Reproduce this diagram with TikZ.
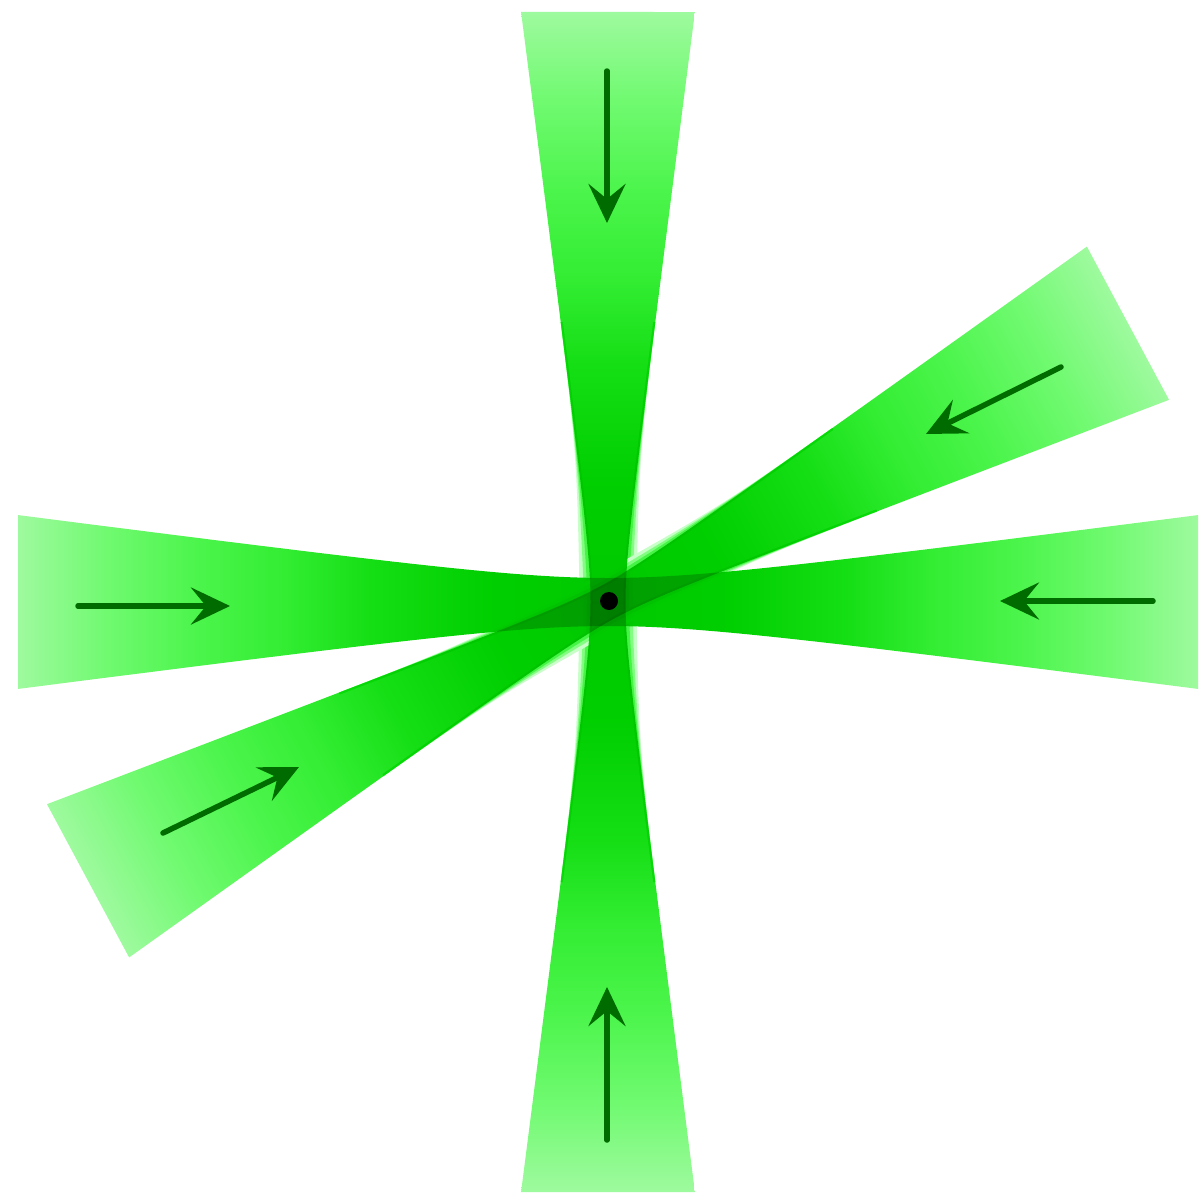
\documentclass[tikz,border=0pt]{standalone}
\usetikzlibrary{arrows.meta}
\definecolor{arrowgreen}{RGB}{0,108,0}
\definecolor{glowa}{RGB}{200,255,200}
\definecolor{glowb}{RGB}{130,253,130}
\definecolor{glowc}{RGB}{70,244,70}
\pgfdeclarehorizontalshading{beamshade}{100bp}{rgb(0bp)=(0.62,0.98,0.62); rgb(25bp)=(0.62,0.98,0.62); rgb(28.75bp)=(0.44,0.98,0.44); rgb(32.5bp)=(0.3,0.96,0.3); rgb(36.25bp)=(0.2,0.93,0.2); rgb(40bp)=(0.08,0.87,0.08); rgb(45bp)=(0,0.81,0); rgb(50bp)=(0,0.79,0); rgb(55bp)=(0,0.81,0); rgb(60bp)=(0.08,0.87,0.08); rgb(63.75bp)=(0.2,0.93,0.2); rgb(67.5bp)=(0.3,0.96,0.3); rgb(71.25bp)=(0.44,0.98,0.44); rgb(75bp)=(0.62,0.98,0.62); rgb(100bp)=(0.62,0.98,0.62)}
\tikzset{
  beam/.style={shading=beamshade, blend mode=multiply},
  ray/.style={draw=arrowgreen, line width=5.5pt, line cap=round,
    -{Stealth[length=39pt,width=37pt,inset=15pt]}},
  dot/.style={circle, fill=black, inner sep=0pt, minimum size=18pt},
}
\begin{document}
\begin{tikzpicture}[x=1pt,y=-1pt,
  declare function={wh(\t)=8+sqrt(256+(0.131*\t)^2);
                    wv(\t)=10.5+sqrt(49+(0.129*\t)^2);
                    gl(\t)=1/exp((\t/120)^2);}]
\useasboundingbox (0,0) rectangle (1201,1199);
% soft rims of the vertical and oblique beams near the focus (under the beams)
\foreach \ang in {90,28.2} {
  \foreach \s in {1,-1} {
    \foreach \k/\col in {11/glowa, 7/glowb, 3.5/glowc} {
      \begin{scope}[transform canvas={shift={(608,602)}, rotate=\ang}]
        \fill[\col] plot[domain=-280:280, samples=61, smooth] (\x,{\s*(wv(\x)+\k*gl(\x))})
          -- plot[domain=280:-280, samples=61, smooth] (\x,{\s*(wv(\x)-2)}) -- cycle;
      \end{scope}
    }
  }
}
% horizontal beam
\begin{scope}[transform canvas={shift={(608,602)}}]
  \shade[beam] plot[domain=-590:590, samples=91, smooth] (\x,{wh(\x)})
    -- plot[domain=590:-590, samples=91, smooth] (\x,{-wh(\x)}) -- cycle;
\end{scope}
% vertical and oblique beams
\foreach \ang in {90,28.2} {
  \begin{scope}[transform canvas={shift={(608,602)}, rotate=\ang}]
    \shade[beam] plot[domain=-590:590, samples=91, smooth] (\x,{wv(\x)})
      -- plot[domain=590:-590, samples=91, smooth] (\x,{-wv(\x)}) -- cycle;
  \end{scope}
}
% arrow end points
\coordinate (t0) at (607,71);   \coordinate (t1) at (607,223);
\coordinate (b0) at (607,1140); \coordinate (b1) at (607,987);
\coordinate (l0) at (78,606);   \coordinate (l1) at (230,606);
\coordinate (r0) at (1153,601); \coordinate (r1) at (1000,601);
\coordinate (u0) at (1061,367); \coordinate (u1) at (926,434);
\coordinate (d0) at (163,833);  \coordinate (d1) at (299,767);
\draw[ray] (t0) -- (t1);
\draw[ray] (b0) -- (b1);
\draw[ray] (l0) -- (l1);
\draw[ray] (r0) -- (r1);
\draw[ray] (u0) -- (u1);
\draw[ray] (d0) -- (d1);
\node[dot] (focus) at (609,601) {};
\end{tikzpicture}
\end{document}
